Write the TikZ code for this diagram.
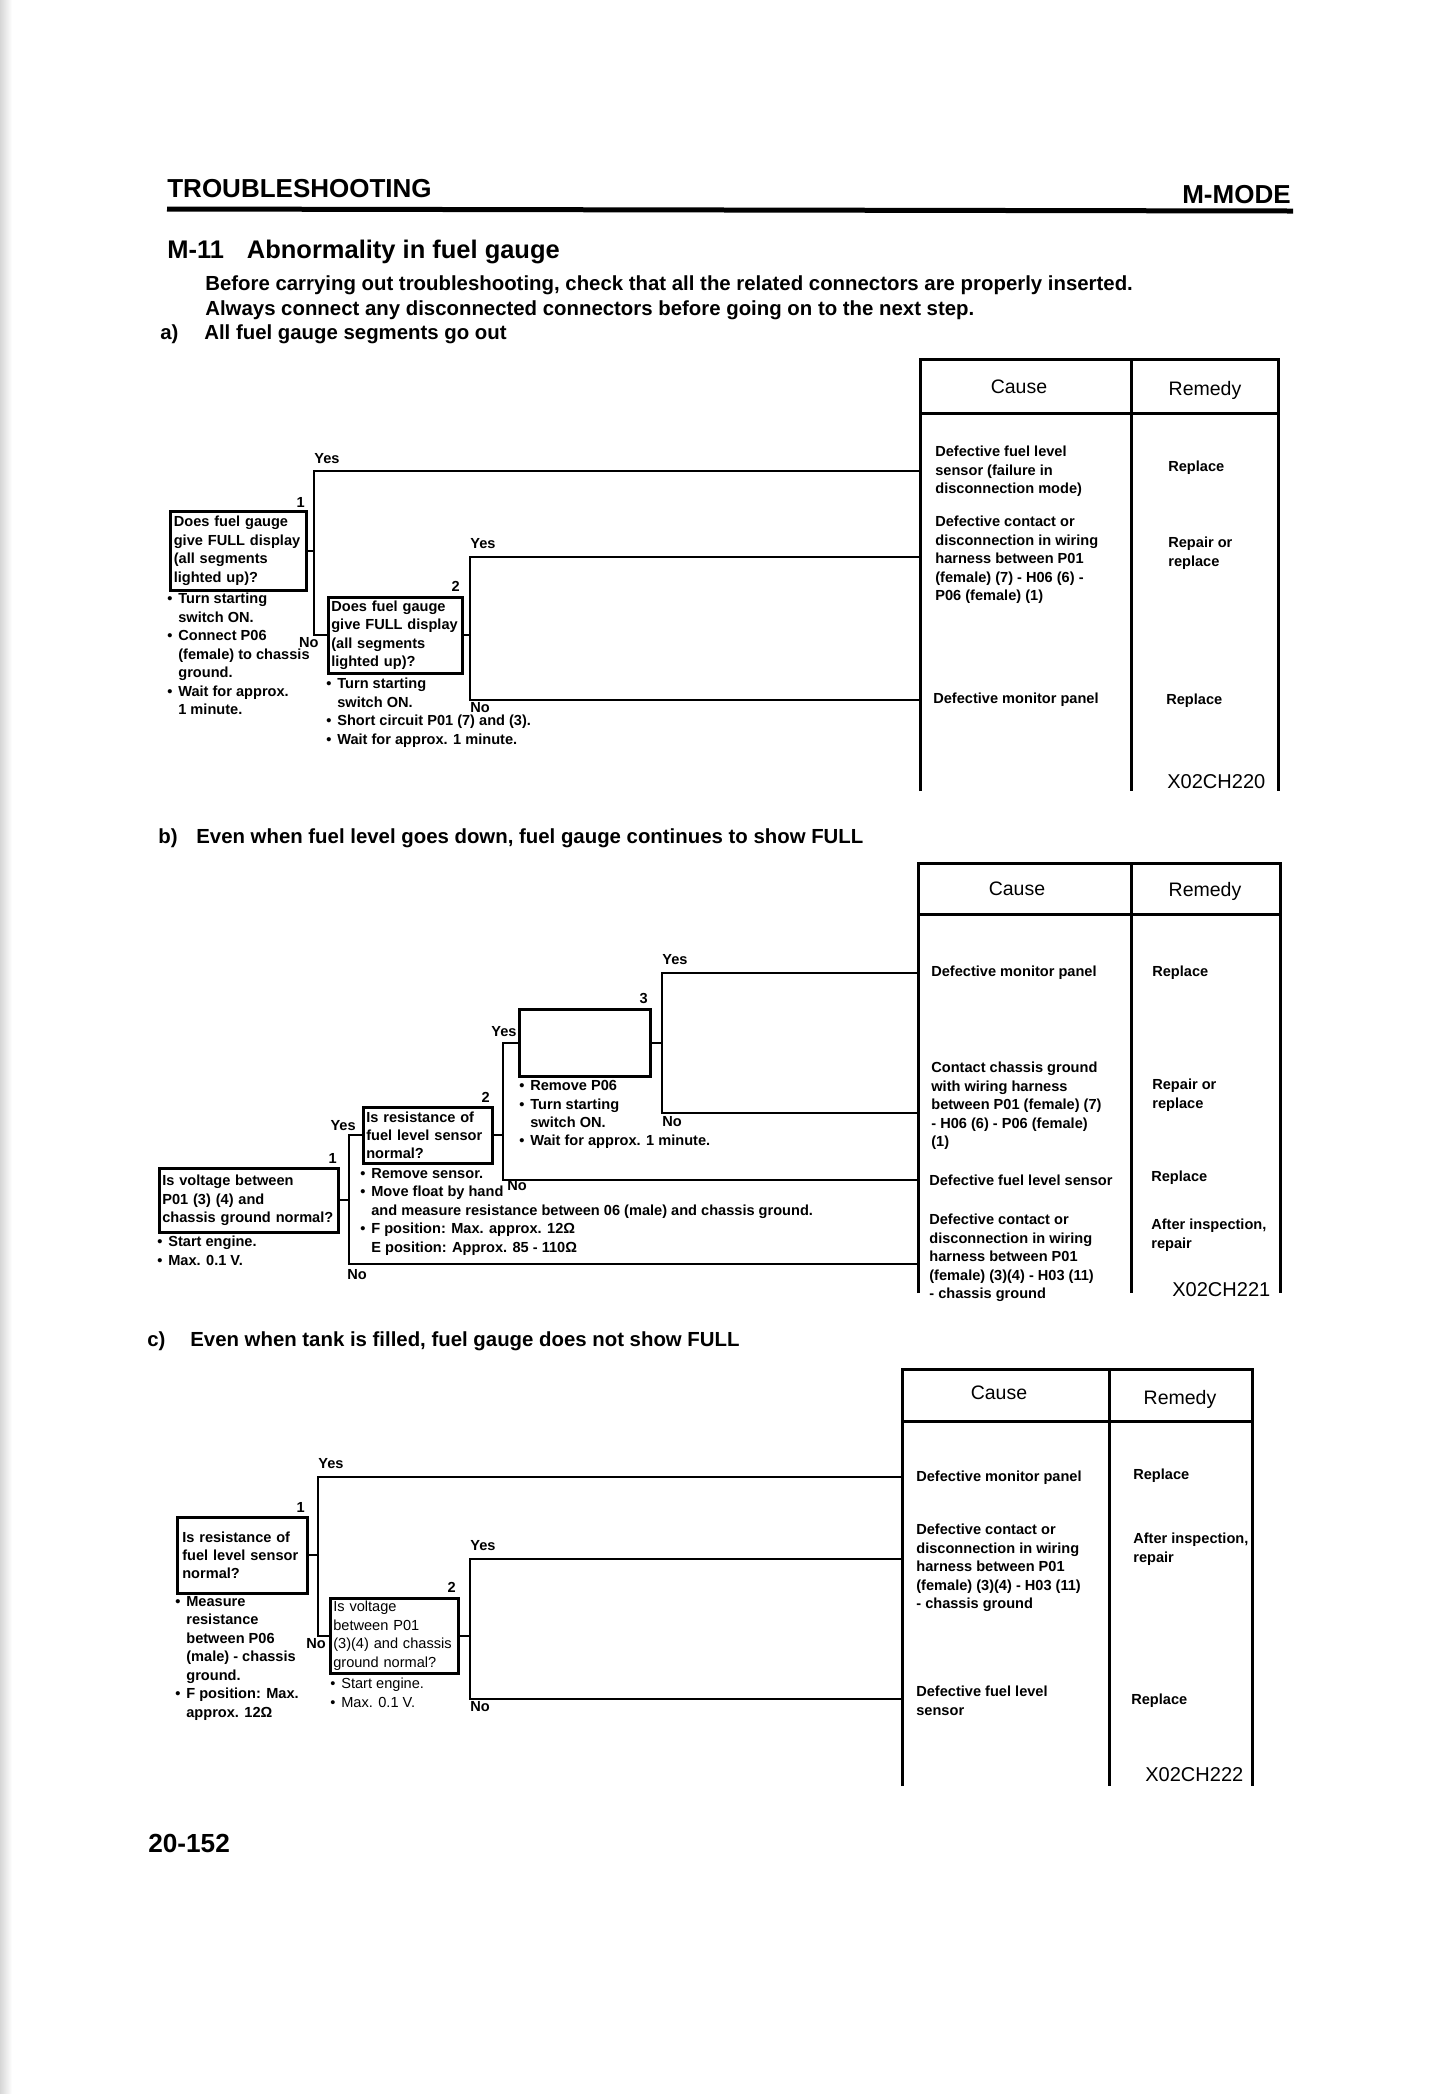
\documentclass[tikz,border=0pt]{standalone}
\usepackage{fontspec}
\setmainfont{Liberation Sans}
\newcommand{\notefont}{\fontsize{8.3}{10.5}\selectfont\bfseries}
\newcommand{\plainfont}{\fontsize{8.3}{10.5}\selectfont}
\newcommand{\itm}{\makebox[0.22cm][l]{\textbullet}}
\newcommand{\cnt}{\hspace*{0.22cm}}
\tikzset{
  wire/.style={black,line width=1.2pt},
  frame/.style={black,line width=1.7pt},
  query/.style={draw=black,line width=1.5pt,anchor=north west,align=left,
                inner xsep=0.06cm,inner ysep=0.03cm,font=\notefont},
  note/.style={anchor=north west,align=left,inner sep=0pt,font=\notefont},
  lab/.style={inner sep=0pt,font=\notefont},
  colhead/.style={inner sep=0pt,font=\fontsize{11.1}{13}\selectfont},
  figcode/.style={anchor=west,inner sep=0pt,font=\fontsize{11.4}{13}\selectfont},
  part/.style={anchor=west,inner sep=0pt,font=\fontsize{11.6}{14}\selectfont\bfseries},
}

\begin{document}
\begin{tikzpicture}[x=0.02cm,y=-0.02cm]
  \path[use as bounding box] (0,0) rectangle (1445,2094);
  \fill[left color=black!16,right color=white] (0,0) rectangle (12,2094);

  % page heading
  \node[anchor=west,inner sep=0pt,font=\fontsize{14.8}{16}\selectfont\bfseries] (pagehead) at (167,189) {TROUBLESHOOTING};
  \node[anchor=east,inner sep=0pt,font=\fontsize{14.8}{16}\selectfont\bfseries] (modehead) at (1291,195) {M-MODE};
  \draw[line width=0.1cm] (167,209) -- (1293,211);
  \node[anchor=west,inner sep=0pt,font=\fontsize{14.5}{16}\selectfont\bfseries] (mtitle) at (167,252)
    {M-11\hspace{0.46cm}Abnormality in fuel gauge};
  \node[part] (intro1) at (205,285)
    {Before carrying out troubleshooting, check that all the related connectors are properly inserted.};
  \node[part] (intro2) at (205,310)
    {Always connect any disconnected connectors before going on to the next step.};

  % a) all segments go out
  \node[part] (parta) at (160,334) {\makebox[0.88cm][l]{a)}All fuel gauge segments go out};
  \draw[frame] (920,791) -- (920,359) -- (1278,359) -- (1278,791);
  \draw[frame] (920,413) -- (1278,413);
  \draw[frame] (1131,359) -- (1131,791);
  \node[colhead] (causea) at (1019,387) {Cause};
  \node[colhead] (remedya) at (1205,390) {Remedy};
  \node[note] (ca1) at (935,446) {Defective fuel level\\sensor (failure in\\disconnection mode)};
  \node[note] (ca2) at (935,516) {Defective contact or\\disconnection in wiring\\harness between P01\\(female) (7) - H06 (6) -\\P06 (female) (1)};
  \node[note,anchor=west] (ca3) at (933,700) {Defective monitor panel};
  \node[note,anchor=west] (ra1) at (1168,468) {Replace};
  \node[note] (ra2) at (1168,537) {Repair or\\replace};
  \node[note,anchor=west] (ra3) at (1166,701) {Replace};
  \node[figcode] (figa) at (1167,782) {X02CH220};

  \node[query,inner xsep=0.07cm,text width=2.58cm,minimum height=1.58cm] (qa1) at (169,510)
    {Does fuel gauge\\give FULL display\\(all segments\\lighted up)?};
  \node[query,text width=2.56cm,minimum height=1.52cm] (qa2) at (327,596)
    {Does fuel gauge\\give FULL display\\(all segments\\lighted up)?};
  \node[note] (ha1) at (167,593) {\itm Turn starting\\\cnt switch ON.\\\itm Connect P06\\\cnt (female) to chassis\\\cnt ground.\\\itm Wait for approx.\\\cnt 1 minute.};
  \node[note] (ha2) at (326,678) {\itm Turn starting\\\cnt switch ON.\\\itm Short circuit P01 (7) and (3).\\\itm Wait for approx. 1 minute.};
  \coordinate (ka1) at (314,0);
  \coordinate (ka2) at (470,0);
  \coordinate (ea1) at (920,471);
  \coordinate (ea2) at (920,557);
  \coordinate (ea3) at (920,700);
  \draw[wire] (qa1.east) -- (qa1.east -| ka1);
  \draw[wire] (ea1) -| (ka1 |- qa2.west) -- (qa2.west);
  \draw[wire] (qa2.east) -- (qa2.east -| ka2);
  \draw[wire] (ea2) -| (ka2 |- ea3) -- (ea3);
  \node[lab,anchor=south east] (sa1) at (305,508) {1};
  \node[lab,anchor=south east] (sa2) at (460,592) {2};
  \node[lab,anchor=south west] (yesa1) at (314,464) {Yes};
  \node[lab,anchor=north east] (noa1) at (319,637) {No};
  \node[lab,anchor=south west] (yesa2) at (470,549) {Yes};
  \node[lab,anchor=north west] (noa2) at (470,702) {No};

  % b) gauge stays at FULL
  \node[part] (partb) at (158,838) {\makebox[0.76cm][l]{b)}Even when fuel level goes down, fuel gauge continues to show FULL};
  \draw[frame] (918,1293) -- (918,863) -- (1280,863) -- (1280,1293);
  \draw[frame] (918,914) -- (1280,914);
  \draw[frame] (1131,863) -- (1131,1293);
  \node[colhead] (causeb) at (1017,889) {Cause};
  \node[colhead] (remedyb) at (1205,891) {Remedy};
  \node[note,anchor=west] (cb1) at (931,973) {Defective monitor panel};
  \node[note] (cb2) at (931,1062) {Contact chassis ground\\with wiring harness\\between P01 (female) (7)\\- H06 (6) - P06 (female)\\(1)};
  \node[note,anchor=west] (cb3) at (929,1180) {Defective fuel level sensor};
  \node[note] (cb4) at (929,1214) {Defective contact or\\disconnection in wiring\\harness between P01\\(female) (3)(4) - H03 (11)\\- chassis ground};
  \node[note,anchor=west] (rb1) at (1152,973) {Replace};
  \node[note] (rb2) at (1152,1079) {Repair or\\replace};
  \node[note,anchor=west] (rb3) at (1151,1178) {Replace};
  \node[note] (rb4) at (1151,1219) {After inspection,\\repair};
  \node[figcode] (figb) at (1172,1290) {X02CH221};

  \node[query,text width=3.46cm,minimum height=1.28cm] (qb1) at (158,1167)
    {Is voltage between\\P01 (3) (4) and\\chassis ground normal?};
  \node[query,text width=2.46cm,minimum height=1.12cm] (qb2) at (362,1106)
    {Is resistance of\\fuel level sensor\\normal?};
  \node[query,minimum width=2.62cm,minimum height=1.34cm] (qb3) at (518,1008) {};
  \node[note] (hb1) at (157,1236) {\itm Start engine.\\\itm Max. 0.1 V.};
  \node[note] (hb2) at (360,1168) {\itm Remove sensor.\\\itm Move float by hand\\\cnt and measure resistance between 06 (male) and chassis ground.\\\itm F position: Max. approx. 12Ω\\\cnt E position: Approx. 85 - 110Ω};
  \node[note] (hb3) at (519,1080) {\itm Remove P06\\\itm Turn starting\\\cnt switch ON.\\\itm Wait for approx. 1 minute.};
  \coordinate (kb1) at (349,0);
  \coordinate (kb2) at (503,0);
  \coordinate (kb3) at (662,0);
  \coordinate (eb1) at (918,973);
  \coordinate (eb2) at (918,1113);
  \coordinate (eb3) at (918,1180);
  \coordinate (eb4) at (918,1264);
  \draw[wire] (qb1.east) -- (qb1.east -| kb1);
  \draw[wire] (qb2.west) -| (kb1 |- eb4) -- (eb4);
  \draw[wire] (qb2.east) -- (qb2.east -| kb2);
  \draw[wire] (qb3.west) -| (kb2 |- eb3) -- (eb3);
  \draw[wire] (qb3.east) -- (qb3.east -| kb3);
  \draw[wire] (eb1) -| (kb3 |- eb2) -- (eb2);
  \node[lab,anchor=south east] (sb1) at (337,1164) {1};
  \node[lab,anchor=south east] (sb2) at (490,1103) {2};
  \node[lab,anchor=south east] (sb3) at (648,1004) {3};
  \node[lab,anchor=south east] (yesb1) at (356,1131) {Yes};
  \node[lab,anchor=north west] (nob1) at (347,1269) {No};
  \node[lab,anchor=south] (yesb2) at (504,1037) {Yes};
  \node[lab,anchor=north west] (nob2) at (507,1180) {No};
  \node[lab,anchor=south west] (yesb3) at (662,965) {Yes};
  \node[lab,anchor=north west] (nob3) at (662,1116) {No};

  % c) gauge never reaches FULL
  \node[part] (partc) at (147,1341) {\makebox[0.86cm][l]{c)}Even when tank is filled, fuel gauge does not show FULL};
  \draw[frame] (902,1786) -- (902,1369) -- (1252,1369) -- (1252,1786);
  \draw[frame] (902,1421) -- (1252,1421);
  \draw[frame] (1109,1369) -- (1109,1786);
  \node[colhead] (causec) at (999,1393) {Cause};
  \node[colhead] (remedyc) at (1180,1399) {Remedy};
  \node[note,anchor=west] (cc1) at (916,1478) {Defective monitor panel};
  \node[note] (cc2) at (916,1524) {Defective contact or\\disconnection in wiring\\harness between P01\\(female) (3)(4) - H03 (11)\\- chassis ground};
  \node[note] (cc3) at (916,1686) {Defective fuel level\\sensor};
  \node[note,anchor=west] (rc1) at (1133,1476) {Replace};
  \node[note] (rc2) at (1133,1533) {After inspection,\\repair};
  \node[note,anchor=west] (rc3) at (1131,1701) {Replace};
  \node[figcode] (figc) at (1145,1775) {X02CH222};

  \node[query,inner xsep=0.1cm,text width=2.40cm,minimum height=1.52cm] (qc1) at (176,1516)
    {Is resistance of\\fuel level sensor\\normal?};
  \node[query,font=\plainfont,text width=2.44cm,minimum height=1.5cm] (qc2) at (329,1597)
    {Is voltage\\between P01\\(3)(4) and chassis\\ground normal?};
  \node[note] (hc1) at (175,1596) {\itm Measure\\\cnt resistance\\\cnt between P06\\\cnt (male) - chassis\\\cnt ground.\\\itm F position: Max.\\\cnt approx. 12Ω};
  \node[note,font=\plainfont] (hc2) at (330,1678) {\itm Start engine.\\\itm Max. 0.1 V.};
  \coordinate (kc1) at (318,0);
  \coordinate (kc2) at (470,0);
  \coordinate (ec1) at (902,1477);
  \coordinate (ec2) at (902,1559);
  \coordinate (ec3) at (902,1699);
  \draw[wire] (qc1.east) -- (qc1.east -| kc1);
  \draw[wire] (ec1) -| (kc1 |- qc2.west) -- (qc2.west);
  \draw[wire] (qc2.east) -- (qc2.east -| kc2);
  \draw[wire] (ec2) -| (kc2 |- ec3) -- (ec3);
  \node[lab,anchor=south east] (sc1) at (305,1513) {1};
  \node[lab,anchor=south east] (sc2) at (456,1593) {2};
  \node[lab,anchor=south west] (yesc1) at (318,1469) {Yes};
  \node[lab,anchor=north] (noc1) at (316,1638) {No};
  \node[lab,anchor=south west] (yesc2) at (470,1551) {Yes};
  \node[lab,anchor=north west] (noc2) at (470,1701) {No};

  \node[anchor=west,inner sep=0pt,font=\fontsize{14.9}{16}\selectfont\bfseries] (pageno) at (148,1843) {20-152};
\end{tikzpicture}
\end{document}
